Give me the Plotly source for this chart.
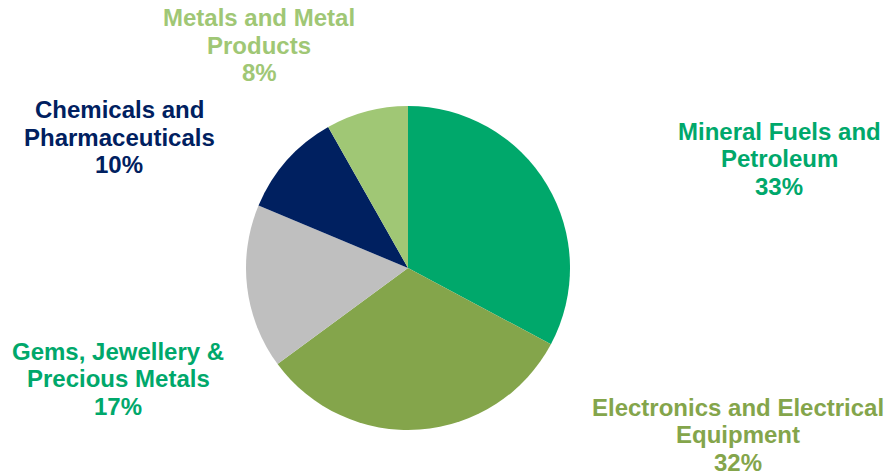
import plotly.graph_objects as go

categories = ["Mineral Fuels and Petroleum", "Electronics and Electrical Equipment",
              "Gems, Jewellery & Precious Metals", "Chemicals and Pharmaceuticals",
              "Metals and Metal Products"]
values = [32.8, 32.1, 16.4, 10.5, 8.2]
pct_labels = ["33%", "32%", "17%", "10%", "8%"]
label_lines = [["Mineral Fuels and", "Petroleum"],
               ["Electronics and Electrical", "Equipment"],
               ["Gems, Jewellery &", "Precious Metals"],
               ["Chemicals and", "Pharmaceuticals"],
               ["Metals and Metal", "Products"]]
slice_colors = ["#00A86B", "#84A54B", "#BFBFBF", "#002060", "#A0C775"]
label_colors = ["#00A86B", "#84A54B", "#00A86B", "#002060", "#A0C775"]
# label anchor: centre x and first-line centre y, in pixels from top-left
label_pos = [(779, 131), (738, 407), (118, 351), (119, 110), (259, 18)]
LINE_STEP = 27.5

W, H = 887, 473
cx, cy, r = 408, 268, 162

fig = go.Figure(go.Pie(
    labels=categories, values=values, sort=False, direction="clockwise",
    rotation=0, textinfo="none", hoverinfo="label+percent",
    marker=dict(colors=slice_colors, line=dict(width=0)),
    domain=dict(x=[(cx - r) / W, (cx + r) / W], y=[(H - cy - r) / H, (H - cy + r) / H]),
    showlegend=False,
))

for lines, pct, col, (px, py) in zip(label_lines, pct_labels, label_colors, label_pos):
    for i, line in enumerate(lines + [pct]):
        fig.add_annotation(
            x=px / W, y=1 - (py + i * LINE_STEP) / H, xref="paper", yref="paper",
            text="<b>" + line + "</b>",
            showarrow=False, xanchor="center", yanchor="middle", align="center",
            font=dict(family="Liberation Sans, Arial, sans-serif", size=24, color=col),
        )

fig.update_layout(width=W, height=H, margin=dict(l=0, r=0, t=0, b=0),
                  paper_bgcolor="white", plot_bgcolor="white")
fig.write_html("out.html")
